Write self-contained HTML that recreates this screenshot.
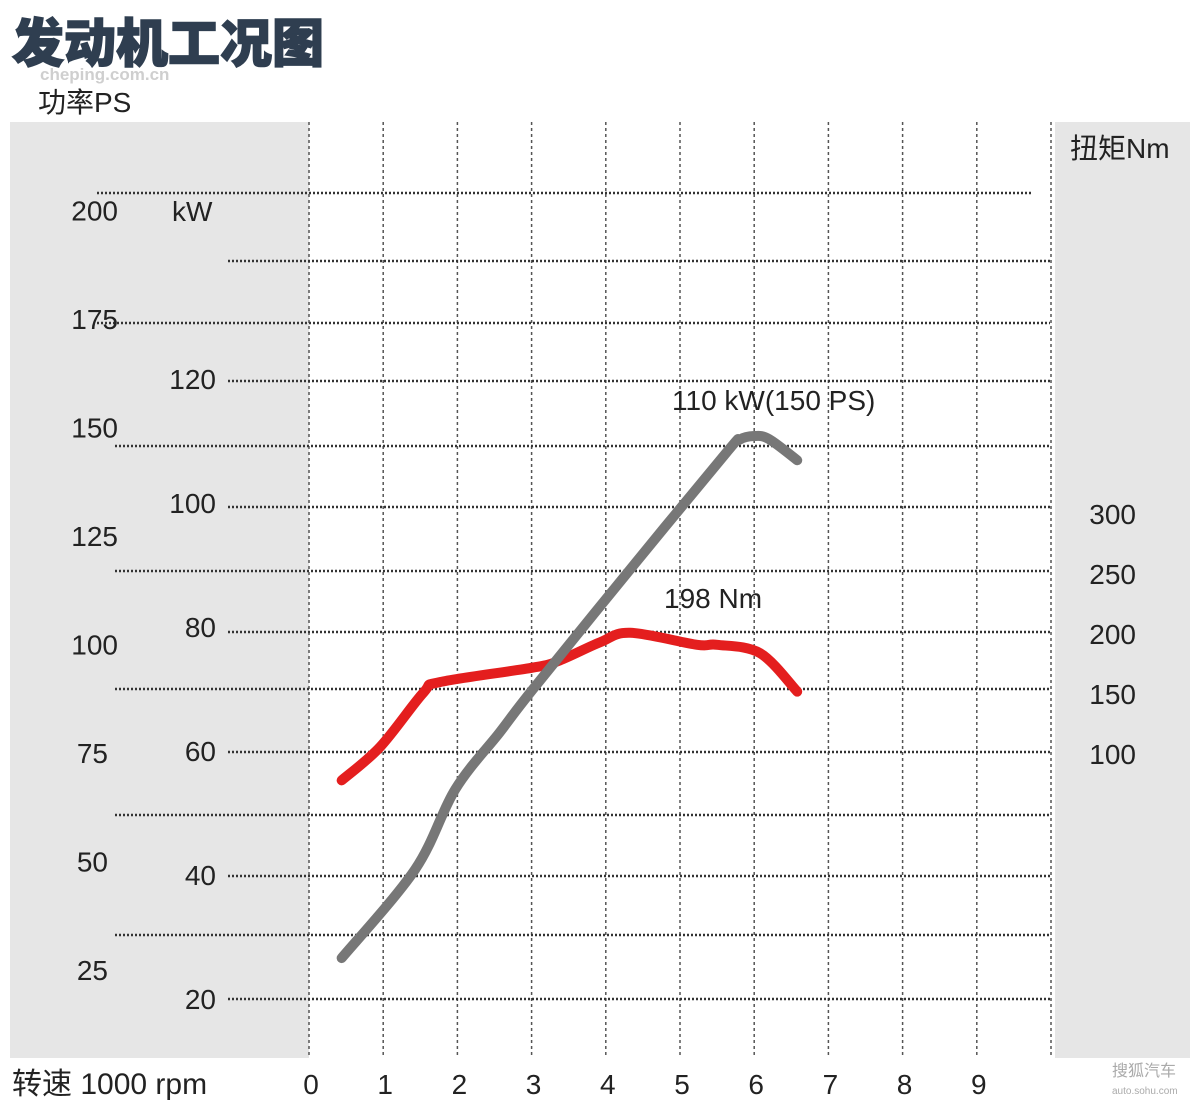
<!DOCTYPE html>
<html><head><meta charset="utf-8"><style>
body{margin:0;background:#fff;}
svg text{font-family:"Liberation Sans","Noto Sans CJK SC",sans-serif;fill:#222;}
</style></head><body>
<svg id="chart" width="1200" height="1108" viewBox="0 0 1200 1108">
<rect x="10" y="122" width="299" height="936" fill="#e6e6e6"/>
<rect x="1055" y="122" width="135" height="936" fill="#e6e6e6"/>
<text x="12" y="62" font-size="52" font-weight="900" style="fill:#2f3e50;stroke:#2f3e50;stroke-width:1.5" font-family="'Noto Sans CJK SC',sans-serif">发动机工况图</text>
<text x="40" y="80" font-size="17" font-weight="bold" style="fill:#cfcfcf">cheping.com.cn</text>
<text x="38" y="112" font-size="28">功率PS</text>
<text x="1070" y="158" font-size="28">扭矩Nm</text>
<text x="12" y="1094" font-size="30">转速 1000 rpm</text>
<text x="1112" y="1076" font-size="16" style="fill:#aaa">搜狐汽车</text>
<text x="1112" y="1094" font-size="10" style="fill:#aaa">auto.sohu.com</text>
<g id="grid"></g><g id="labels"></g><g id="series"></g>
</svg>
<script>
const xTicks=[0,1,2,3,4,5,6,7,8,9];
const psTicks=[200,175,150,125,100,75,50,25];
const kwTicks=[120,100,80,60,40,20];
const nmTicks=[300,250,200,150,100];
const powerRpm=[0.44,1.43,1.97,2.57,3.02,4.37,5.63,5.8,6.0,6.2,6.58];
const powerKw=[26.6,40.9,53.8,63,70,89.9,108.2,110.2,110.8,110.3,106.9];
const torqueRpm=[0.44,0.96,1.54,1.77,3.02,3.38,3.92,4.33,5.23,5.5,6.08,6.58];
const torqueNm=[78,106,151,160,172,178,193,201,191,191,184,152];
const NS="http://www.w3.org/2000/svg";
const X=r=>309+r*74.2;
const YK=k=>999-(k-20)*6.2;
const YN=n=>754-(n-100)*1.2;
const YP=p=>970-(p-25)*4.34;
function mk(t,a,p){const e=document.createElementNS(NS,t);for(const k in a)e.setAttribute(k,a[k]);document.getElementById(p).appendChild(e);return e;}
for(let i=0;i<=10;i++){const l=mk('line',{x1:X(i),x2:X(i),y1:122,y2:1058,stroke:'#555','stroke-width':1.5,'stroke-dasharray':'3,3'},'grid');

}
const hl=[[193,97,1032],[261,228,1050],[323,97,1050],[381,228,1050],[446,115,1050],[507,228,1050],[571,115,1050],[632,228,1050],[689,115,1050],[752,228,1050],[815,115,1050],[876,228,1050],[935,115,1050],[999,228,1050]];
hl.forEach(h=>{const l=mk('line',{x1:h[1],x2:h[2],y1:h[0],y2:h[0],stroke:'#333','stroke-width':2.6,'stroke-dasharray':'2,2'},'grid');

});
xTicks.forEach(v=>{const t=mk('text',{x:X(v)+2,y:1094,'font-size':28,'text-anchor':'middle'},'labels');t.textContent=v;

});
psTicks.forEach(v=>{const t=mk('text',{x:v<100?108:118,y:YP(v)+10,'font-size':28,'text-anchor':'end'},'labels');t.textContent=v;

});
kwTicks.forEach(v=>{const t=mk('text',{x:216,y:YK(v)+10,'font-size':28,'text-anchor':'end'},'labels');t.textContent=v;

});
nmTicks.forEach(v=>{const t=mk('text',{x:1136,y:YN(v)+10,'font-size':28,'text-anchor':'end'},'labels');t.textContent=v;

});
const kw=mk('text',{x:172,y:221,'font-size':28},'labels');kw.textContent='kW';


function smooth(pts){let d='M'+pts[0][0]+','+pts[0][1];for(let i=0;i<pts.length-1;i++){const p0=pts[i-1]||pts[i],p1=pts[i],p2=pts[i+1],p3=pts[i+2]||p2;
d+=` C${p1[0]+(p2[0]-p0[0])/6},${p1[1]+(p2[1]-p0[1])/6} ${p2[0]-(p3[0]-p1[0])/6},${p2[1]-(p3[1]-p1[1])/6} ${p2[0]},${p2[1]}`;}return d;}
const tp=mk('path',{d:smooth(torqueRpm.map((r,i)=>[X(r),YN(torqueNm[i])])),fill:'none',stroke:'#e41e1e','stroke-width':10,'stroke-linecap':'round'},'series');


const pp=mk('path',{d:smooth(powerRpm.map((r,i)=>[X(r),YK(powerKw[i])])),fill:'none',stroke:'#777','stroke-width':10,'stroke-linecap':'round'},'series');


const a1=mk('text',{x:672,y:410,'font-size':28},'series');a1.textContent='110 kW(150 PS)';


const a2=mk('text',{x:664,y:608,'font-size':28},'series');a2.textContent='198 Nm';


</script>
</body></html>
